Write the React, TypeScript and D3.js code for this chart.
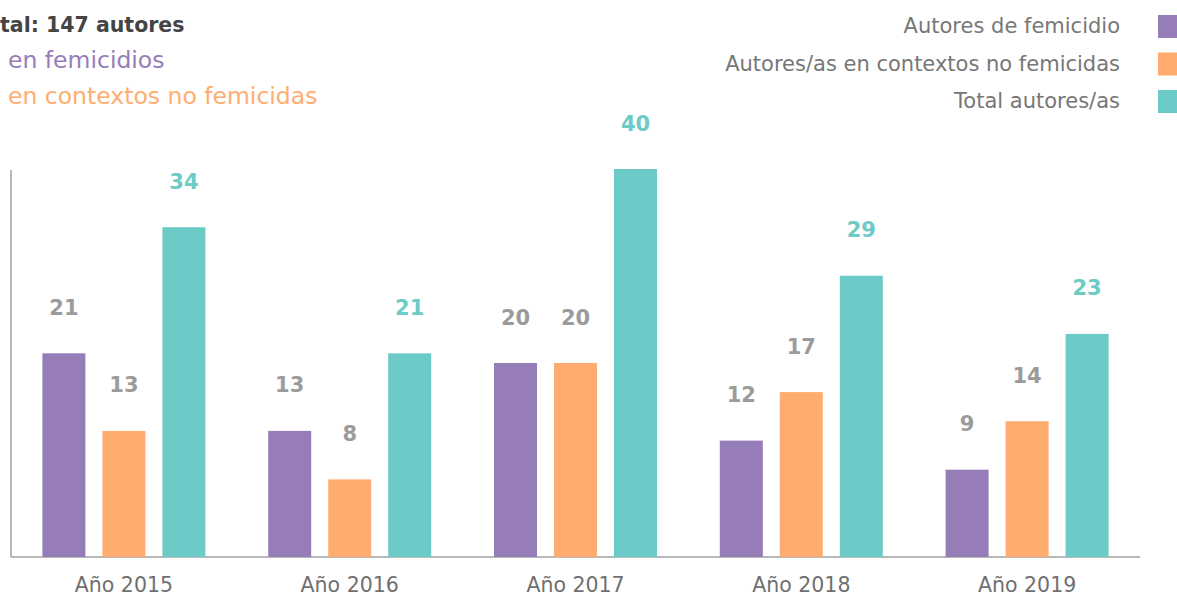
import React, { useEffect, useRef } from 'react';
import * as d3 from 'd3';

const years = ["Año 2015", "Año 2016", "Año 2017", "Año 2018", "Año 2019"];
const series = ["Autores de femicidio", "Autores/as en contextos no femicidas", "Total autores/as"];
const femicidio = [21, 13, 20, 12, 9];
const noFemicida = [13, 8, 20, 17, 14];
const total = [34, 21, 40, 29, 23];
const colors = ["#977db8", "#ffad6e", "#6ccbc6"];
// summary lines as they show in the picture (the left part is cut off there)
const summary = [
  { text: "tal: 147 autores", color: "#444444", weight: 700, x: 0, size: 20.5 },
  { text: "en femicidios", color: "#977db8", weight: 400, x: 8, size: 23.5 },
  { text: "en contextos no femicidas", color: "#ffad6e", weight: 400, x: 8, size: 23.5 },
];

const W = 1177;
const H = 598;
const FONT = "'DejaVu Sans', sans-serif";

export default function App() {
  const svgRef = useRef<SVGSVGElement>(null);

  useEffect(() => {
    if (!svgRef.current) return;
    const svg = d3.select(svgRef.current);
    svg.selectAll("*").remove();

    const margin = { top: 170, left: 11, right: 37, bottom: 41 };
    const baseY = H - margin.bottom;

    const x0 = d3.scaleBand<string>()
      .domain(years)
      .range([margin.left, W - margin.right])
      .padding(0);

    const x1 = d3.scaleBand<string>()
      .domain(series)
      .range([-90, 90])
      .paddingInner(17 / 60)
      .paddingOuter(17 / 120);

    const y = d3.scaleLinear().domain([0, 40]).range([baseY, 169]);

    const values = [femicidio, noFemicida, total];

    // axes lines
    svg.append("line")
      .attr("x1", margin.left).attr("x2", margin.left)
      .attr("y1", margin.top).attr("y2", baseY)
      .attr("stroke", "#a0a0a0").attr("stroke-width", 1.5);
    svg.append("line")
      .attr("x1", margin.left).attr("x2", W - margin.right)
      .attr("y1", baseY).attr("y2", baseY)
      .attr("stroke", "#a0a0a0").attr("stroke-width", 1.5);

    years.forEach((yr, i) => {
      const cx = (x0(yr) || 0) + x0.bandwidth() / 2;
      const g = svg.append("g").attr("transform", `translate(${cx},0)`);
      series.forEach((s, j) => {
        const v = values[j][i];
        const bx = x1(s) || 0;
        g.append("rect")
          .attr("x", bx)
          .attr("y", y(v))
          .attr("width", x1.bandwidth())
          .attr("height", baseY - y(v))
          .attr("fill", colors[j]);
        g.append("text")
          .attr("x", bx + x1.bandwidth() / 2)
          .attr("y", y(v) - 46)
          .attr("dy", "0.36em")
          .attr("text-anchor", "middle")
          .attr("fill", j === 2 ? colors[2] : "#9b9b9b")
          .style("font-family", FONT)
          .style("font-weight", 700)
          .style("font-size", "21px")
          .text(v);
      });
      svg.append("text")
        .attr("x", cx)
        .attr("y", 592)
        .attr("text-anchor", "middle")
        .attr("fill", "#707070")
        .style("font-family", FONT)
        .style("font-size", "20.5px")
        .text(yr);
    });

    // summary text at top-left
    summary.forEach((s, i) => {
      svg.append("text")
        .attr("x", s.x)
        .attr("y", 32 + i * 36)
        .attr("fill", s.color)
        .style("font-family", FONT)
        .style("font-weight", s.weight)
        .style("font-size", `${s.size}px`)
        .text(s.text);
    });

    // legend
    series.forEach((s, j) => {
      svg.append("text")
        .attr("x", 1120)
        .attr("y", 33 + j * 37.5)
        .attr("text-anchor", "end")
        .attr("fill", "#777777")
        .style("font-family", FONT)
        .style("font-size", "21px")
        .text(s);
      svg.append("rect")
        .attr("x", 1158)
        .attr("y", 15 + j * 37.5)
        .attr("width", 22)
        .attr("height", 23)
        .attr("fill", colors[j]);
    });
  }, []);

  return (
    <div style={{ position: 'fixed', left: 0, top: 0, width: W, height: H, background: '#fff', overflow: 'hidden' }}>
      <svg ref={svgRef} width={W} height={H} style={{ display: 'block' }} />
    </div>
  );
}
